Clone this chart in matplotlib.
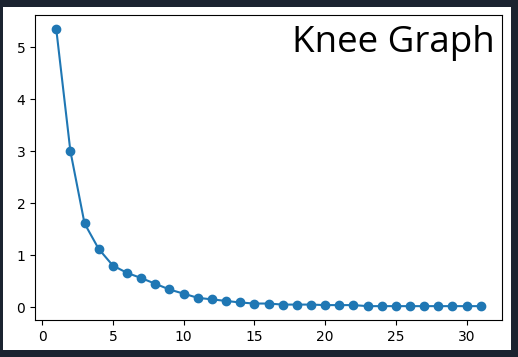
import matplotlib
matplotlib.use('Agg')
import matplotlib.pyplot as plt
from matplotlib.patches import Rectangle

# number of clusters and the inertia-like score for each
k = list(range(1, 32))
score = [5.35, 3.0, 1.61, 1.12, 0.80, 0.66, 0.56, 0.45, 0.34, 0.26,
         0.18, 0.15, 0.12, 0.09, 0.07, 0.07, 0.05, 0.05, 0.05, 0.04,
         0.04, 0.04, 0.02, 0.02, 0.02, 0.02, 0.02, 0.02, 0.02, 0.02, 0.02]

W, H = 518, 357
fig = plt.figure(figsize=(W / 100, H / 100), dpi=100, facecolor='#1b2330')
# white panel inside the dark frame
fig.patches.append(Rectangle((3 / W, 1 - 350 / H), 508 / W, 343 / H,
                             transform=fig.transFigure, facecolor='white',
                             edgecolor='none', zorder=-5))

ax = fig.add_axes([35 / W, 1 - 320 / H, 467 / W, 305 / H])
ax.set_zorder(2)
ax.plot(k, score, marker='o', color='#1f77b4')
ax.set_xticks([0, 5, 10, 15, 20, 25, 30])

fig.text(495 / W, 1 - 52 / H, 'Knee Graph', ha='right', va='baseline',
         fontsize=26.5, family='Open Sans', color='black', zorder=5)

fig.savefig('out.png', dpi=100, facecolor=fig.get_facecolor())
